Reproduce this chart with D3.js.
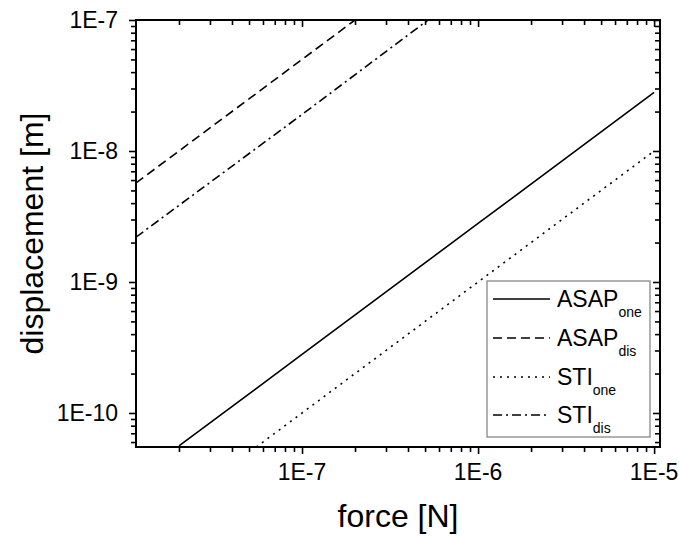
<!DOCTYPE html>
<html><head><meta charset="utf-8">
<script src="https://cdn.jsdelivr.net/npm/d3@7"></script>
<style>
html,body{margin:0;padding:0;background:#fff;}
svg{display:block;font-family:"Liberation Sans",Arial,sans-serif;}
</style></head>
<body>
<script>
// ---- data ----
const xTickValues = [1e-7, 1e-6, 1e-5];
const xTickLabels = ["1E-7", "1E-6", "1E-5"];
const yTickValues = [1e-10, 1e-9, 1e-8, 1e-7];
const yTickLabels = ["1E-10", "1E-9", "1E-8", "1E-7"];

const asapOneForce = [2e-8, 1e-7, 1e-6, 1e-5];
const asapOneDisp  = [5.6e-11, 2.8e-10, 2.8e-9, 2.8e-8];
const asapDisForce = [1.14e-8, 1e-7, 2e-7];
const asapDisDisp  = [5.7e-9, 5e-8, 1e-7];
const stiOneForce  = [5.5e-8, 1e-7, 1e-6, 1e-5];
const stiOneDisp   = [5.5e-11, 1e-10, 1e-9, 1e-8];
const stiDisForce  = [1.14e-8, 1e-7, 5.2e-7];
const stiDisDisp   = [2.2e-9, 1.9e-8, 1e-7];

const seriesNames = ["ASAP", "ASAP", "STI", "STI"];
const seriesSubs  = ["one", "dis", "one", "dis"];

// ---- layout ----
const W = 679, H = 536;
const L = 136, R = 660, T = 20, B = 447;
const svg = d3.select("body").append("svg").attr("width", W).attr("height", H);

const x = d3.scaleLog().domain([1.14e-8, 1.08e-5]).range([L, R]);
const y = d3.scaleLog().domain([5.5e-11, 1e-7]).range([B, T]);

const dashes = [null, "9,5", "2,5", "9,4,2,4"];
const series = [
  asapOneForce.map((f, i) => [f, asapOneDisp[i]]),
  asapDisForce.map((f, i) => [f, asapDisDisp[i]]),
  stiOneForce.map((f, i) => [f, stiOneDisp[i]]),
  stiDisForce.map((f, i) => [f, stiDisDisp[i]])
];

svg.append("clipPath").attr("id", "clip").append("rect")
  .attr("x", L).attr("y", T).attr("width", R - L).attr("height", B - T);

const line = d3.line().x(d => x(d[0])).y(d => y(d[1]));
const g = svg.append("g").attr("clip-path", "url(#clip)");
series.forEach((s, i) => {
  g.append("path").attr("d", line(s)).attr("fill", "none")
    .attr("stroke", "#000").attr("stroke-width", 1.6)
    .attr("stroke-dasharray", dashes[i]);
});

// ---- minor ticks ----
function minors(dom) {
  const out = [];
  for (let e = -12; e <= -4; e++) for (let m = 2; m <= 9; m++) {
    const v = m * Math.pow(10, e);
    if (v >= dom[0] && v <= dom[1]) out.push(v);
  }
  return out;
}
const xMin = minors(x.domain()), yMin = minors(y.domain());

function axisDraw(axis, tr) {
  const a = svg.append("g").attr("transform", tr).call(axis);
  a.select(".domain").remove();
  a.selectAll(".tick text").remove();
  a.selectAll(".tick line").attr("stroke", "#000").attr("stroke-width", 1.6);
  return a;
}
// bottom
axisDraw(d3.axisBottom(x).tickValues(xTickValues).tickSize(7), `translate(0,${B})`);
axisDraw(d3.axisBottom(x).tickValues(xMin).tickSize(5), `translate(0,${B})`);
svg.append("g").selectAll("text").data(xTickValues).join("text")
  .attr("x", d => x(d)).attr("y", 480).attr("text-anchor", "middle")
  .attr("font-size", 23).attr("fill", "#000").text((d, i) => xTickLabels[i]);
// top (inward)
axisDraw(d3.axisTop(x).tickValues(xTickValues).tickSize(-7), `translate(0,${T})`);
axisDraw(d3.axisTop(x).tickValues(xMin).tickSize(-5), `translate(0,${T})`);
// left
axisDraw(d3.axisLeft(y).tickValues(yTickValues).tickSize(7), `translate(${L},0)`);
axisDraw(d3.axisLeft(y).tickValues(yMin).tickSize(5), `translate(${L},0)`);
svg.append("g").selectAll("text").data(yTickValues).join("text")
  .attr("x", 118).attr("y", d => y(d) + 8).attr("text-anchor", "end")
  .attr("font-size", 23).attr("fill", "#000").text((d, i) => yTickLabels[i]);
// right (inward)
axisDraw(d3.axisRight(y).tickValues(yTickValues).tickSize(-7), `translate(${R},0)`);
axisDraw(d3.axisRight(y).tickValues(yMin).tickSize(-5), `translate(${R},0)`);

// frame
svg.append("rect").attr("x", L).attr("y", T).attr("width", R - L).attr("height", B - T)
  .attr("fill", "none").attr("stroke", "#000").attr("stroke-width", 2);

// axis titles
svg.append("text").attr("x", (L + R) / 2).attr("y", 527).attr("text-anchor", "middle")
  .attr("font-size", 32).attr("fill", "#000").text("force [N]");
svg.append("text").attr("transform", `translate(43,${(T + B) / 2}) rotate(-90)`)
  .attr("text-anchor", "middle").attr("font-size", 32).attr("fill", "#000").text("displacement [m]");

// legend
const lg = svg.append("g");
lg.append("rect").attr("x", 487).attr("y", 281).attr("width", 163).attr("height", 156)
  .attr("fill", "#fff").attr("stroke", "#888").attr("stroke-width", 1.3);
const rowY = [299, 338, 377, 415];
seriesNames.forEach((n, i) => {
  lg.append("line").attr("x1", 493).attr("x2", 550).attr("y1", rowY[i]).attr("y2", rowY[i])
    .attr("stroke", "#000").attr("stroke-width", 1.6).attr("stroke-dasharray", dashes[i]);
  const t = lg.append("text").attr("x", 557).attr("y", rowY[i] + 8).attr("font-size", 23).attr("fill", "#000");
  t.append("tspan").text(n);
  t.append("tspan").attr("font-size", 14).attr("dy", 10).text(seriesSubs[i]);
});
</script>
</body></html>
